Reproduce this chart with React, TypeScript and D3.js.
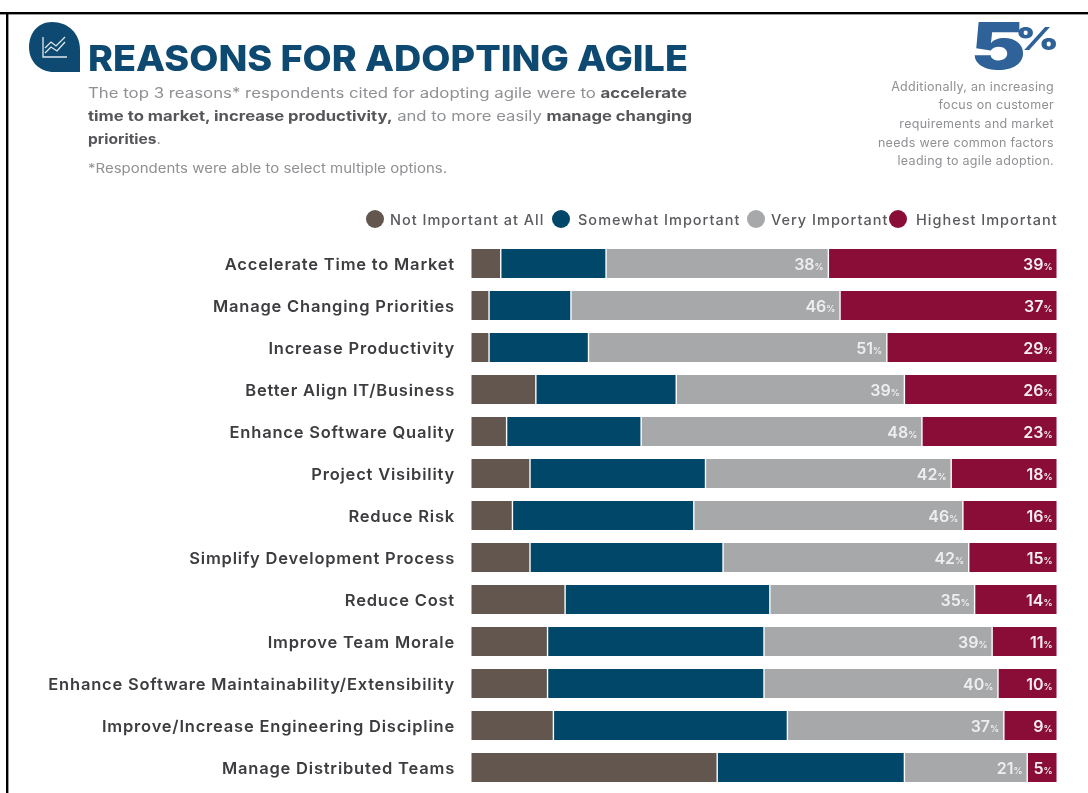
import React from "react";
import * as d3 from "d3";

const categories = [
  "Accelerate Time to Market",
  "Manage Changing Priorities",
  "Increase Productivity",
  "Better Align IT/Business",
  "Enhance Software Quality",
  "Project Visibility",
  "Reduce Risk",
  "Simplify Development Process",
  "Reduce Cost",
  "Improve Team Morale",
  "Enhance Software Maintainability/Extensibility",
  "Improve/Increase Engineering Discipline",
  "Manage Distributed Teams",
];
const notImportant = [5, 3, 3, 11, 6, 10, 7, 10, 16, 13, 13, 14, 42];
const somewhatImportant = [18, 14, 17, 24, 23, 30, 31, 33, 35, 37, 37, 40, 32];
const veryImportant = [38, 46, 51, 39, 48, 42, 46, 42, 35, 39, 40, 37, 21];
const highestImportant = [39, 37, 29, 26, 23, 18, 16, 15, 14, 11, 10, 9, 5];

const seriesKeys = ["Not Important at All", "Somewhat Important", "Very Important", "Highest Important"];
const seriesValues = [notImportant, somewhatImportant, veryImportant, highestImportant];
const seriesColors = ["#62564f", "#06476b", "#a7a8aa", "#8a0c39"];
const legendCx = [375, 561, 756, 898];
const legendTextX = [390, 578, 771, 916];
const labelled = [false, false, true, true];

const introLines = [
  [["The top 3 reasons* respondents cited for adopting agile were to ", false], ["accelerate", true]],
  [["time to market, increase productivity,", true], [" and to more easily ", false], ["manage changing", true]],
  [["priorities", true], [".", false]],
] as [string, boolean][][];
const sideNote = [
  "Additionally, an increasing",
  "focus on customer",
  "requirements and market",
  "needs were common factors",
  "leading to agile adoption.",
];

const FONT = "Inter, 'Noto Sans', sans-serif";
const x = d3.scaleLinear().domain([0, 100]).range([471.5, 1056.5]);
const y = d3.scaleBand<string>().domain(categories).range([249, 782]).paddingInner(13 / 42).paddingOuter(0);
const GAP = 0.7;

export default function App() {
  const rows = categories.map((c, i) => {
    const vals = seriesValues.map((s) => s[i]);
    const cum = d3.cumsum(vals);
    return { c, vals, cum };
  });
  return (
    <svg
      width={1088}
      height={793}
      viewBox="0 0 1088 793"
      style={{ position: "fixed", left: 0, top: 0, background: "#fff", fontFamily: FONT }}
    >
      <defs>
        <filter id="soft" x="-2%" y="-2%" width="104%" height="104%">
          <feGaussianBlur stdDeviation="0.55" />
        </filter>
      </defs>
      <g filter="url(#soft)">
        <rect x={0} y={12} width={1088} height={2.4} fill="#000" />
        <rect x={6} y={12} width={2.4} height={781} fill="#000" />

        {/* header icon */}
        <path d="M52 22 C38 22 29 33 29 47 C29 62 40 72 54 72 L80 72 L80 50 C80 33 68 22 52 22 Z" fill="#0d4a6f" />
        <path d="M43 37 V57 H67 M45 48 L51 42 L56 46 L65 37 M45 53 L51 47 L57 51 L65 42" fill="none" stroke="#dfe8ee" strokeWidth={1.3} />

        <text x={88} y={71} fontSize={36} fontWeight={800} fill="#0d4a6f" textLength={600} lengthAdjust="spacingAndGlyphs">
          REASONS FOR ADOPTING AGILE
        </text>

        {introLines.map((line, i) => (
          <text key={i} x={88} y={98 + i * 23} fontSize={14} fill="#8f9093" textLength={i === 0 ? 599 : i === 1 ? 604 : 73} lengthAdjust="spacingAndGlyphs">
            {line.map(([t, b], j) => (
              <tspan key={j} fontWeight={b ? 700 : 400} fill={b ? "#55555a" : "#8f9093"}>{t}</tspan>
            ))}
          </text>
        ))}
        <text x={88} y={173} fontSize={13} fill="#8f9093" textLength={359} lengthAdjust="spacingAndGlyphs">
          *Respondents were able to select multiple options.
        </text>

        <text transform="translate(1059,69) scale(1.3,1)" textAnchor="end" fontWeight={900} fill="#2f6299">
          <tspan fontSize={64}>5</tspan>
          <tspan fontSize={32} dx={-8} dy={-19}>%</tspan>
        </text>
        {sideNote.map((t, i) => (
          <text key={t} x={1054} y={90.5 + i * 18.7} textAnchor="end" fontSize={12.5} letterSpacing={0.3} fill="#8f9093">{t}</text>
        ))}

        {seriesKeys.map((k, i) => (
          <g key={k}>
            <circle cx={legendCx[i]} cy={219} r={9} fill={seriesColors[i]} />
            <text x={legendTextX[i]} y={224.5} fontSize={14.5} letterSpacing={1} fontWeight={500} fill="#5a5a5e">{k}</text>
          </g>
        ))}

        {rows.map(({ c, vals, cum }) => {
          const by = y(c)!;
          const bh = y.bandwidth();
          return (
            <g key={c}>
              <text x={455} y={by + bh / 2 + 6.5} textAnchor="end" fontSize={16.5} fontWeight={600} letterSpacing={0.8} fill="#3c3c40">{c}</text>
              {vals.map((v, s) => {
                const x0 = x(cum[s] - v) + (s > 0 ? GAP : 0);
                const x1 = x(cum[s]) - (s < 3 ? GAP : 0);
                return (
                  <g key={s}>
                    <rect x={x0} y={by} width={x1 - x0} height={bh} fill={seriesColors[s]} />
                    {labelled[s] && (
                      <text x={x1 - 4} y={by + bh / 2 + 6.5} textAnchor="end" fill={s === 2 ? "#eeeeee" : "#f6eef0"} fontSize={16} fontWeight={600}>
                        {v}<tspan fontSize={9}>%</tspan>
                      </text>
                    )}
                  </g>
                );
              })}
            </g>
          );
        })}
      </g>
    </svg>
  );
}
